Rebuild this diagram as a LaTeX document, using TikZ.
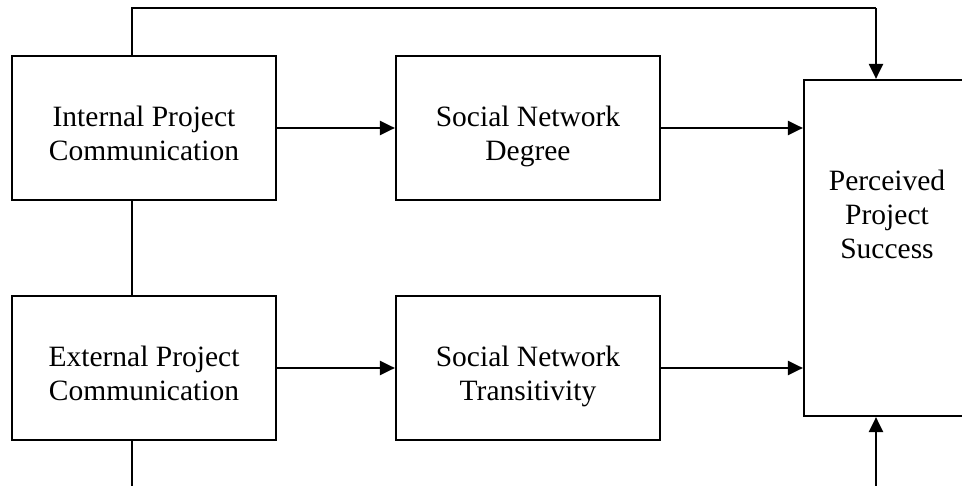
\documentclass[tikz,border=0pt]{standalone}
\usepackage{fontspec}
\setmainfont{Liberation Serif}
\usetikzlibrary{arrows.meta}
\newcommand\firstup[1]{\rule{0pt}{#1pt}}
\newcommand\lastdown[1]{\rule[-#1pt]{0pt}{0pt}}
\begin{document}
\begin{tikzpicture}[x=1pt,y=-1pt,
  box/.style={draw,line width=2.2pt,inner sep=0pt,align=center,font=\fontsize{29.5}{34}\selectfont},
  conn/.style={line width=2.2pt},
  arr/.style={line width=2.2pt,-{Triangle[length=15pt,width=14pt]}}]
\useasboundingbox (0,0) rectangle (962,486);
\node[box,minimum width=264,minimum height=144] (IPC) at (144,128) {\firstup{42}Internal Project\\Communication\lastdown{10}};
\node[box,minimum width=264,minimum height=144] (SND) at (528,128) {\firstup{42}Social Network\\Degree\lastdown{10}};
\node[box,minimum width=264,minimum height=144] (EPC) at (144,368) {\firstup{42}External Project\\Communication\lastdown{10}};
\node[box,minimum width=264,minimum height=144] (SNT) at (528,368) {\firstup{42}Social Network\\Transitivity\lastdown{10}};
\node[box,minimum width=166,minimum height=336] (PPS) at (887,248) {\firstup{24}Perceived\\Project\\Success\lastdown{70}};
\coordinate (t1) at (132,8);
\coordinate (t2) at (876,8);
\coordinate (b1) at (132,487);
\coordinate (b2) at (876,487);
\draw[conn] (IPC.north -| t1) -- (t1) -- (t2);
\draw[arr] (t2) -- (PPS.north -| t2);
\draw[conn] (IPC.south -| t1) -- (EPC.north -| t1);
\draw[conn] (EPC.south -| b1) -- (b1);
\draw[arr] (b2) -- (PPS.south -| b2);
\draw[arr] (IPC.east) -- (SND.west);
\draw[arr] (SND.east) -- (SND.east -| PPS.west);
\draw[arr] (EPC.east) -- (SNT.west);
\draw[arr] (SNT.east) -- (SNT.east -| PPS.west);
\end{tikzpicture}
\end{document}
